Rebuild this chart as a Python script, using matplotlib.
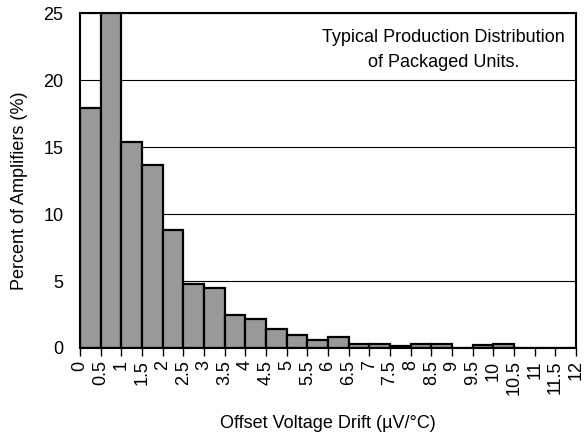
import numpy as np
import matplotlib.pyplot as plt

plt.rcParams["font.family"] = ["Liberation Sans", "DejaVu Sans"]

# histogram bins (left edges, width 0.5) and percent of amplifiers
bin_left = [0, 0.5, 1, 1.5, 2, 2.5, 3, 3.5, 4, 4.5, 5, 5.5, 6, 6.5, 7, 7.5, 8, 8.5, 9, 9.5, 10, 10.5, 11, 11.5]
percent = [17.9, 25.0, 15.35, 13.65, 8.8, 4.8, 4.5, 2.45, 2.15, 1.45, 1.0, 0.57, 0.8, 0.32, 0.32, 0.18, 0.32, 0.27, 0.0, 0.25, 0.32, 0.0, 0.0, 0.0]
tick_vals = np.arange(0, 12.5, 0.5)
tick_labels = ["0", "0.5", "1", "1.5", "2", "2.5", "3", "3.5", "4", "4.5", "5", "5.5", "6",
               "6.5", "7", "7.5", "8", "8.5", "9", "9.5", "10", "10.5", "11", "11.5", "12"]

FS = 13

fig = plt.figure(figsize=(5.86, 4.38), dpi=100)
ax = fig.add_axes([0.1365, 0.2055, 0.8465, 0.7645])

ax.set_axisbelow(True)
ax.grid(axis="y", color="black", linewidth=0.8)
ax.bar(bin_left, percent, width=0.5, align="edge", color="#999999",
       edgecolor="black", linewidth=1.6)

ax.set_xlim(0, 12)
ax.set_ylim(0, 25)
ax.set_xticks(tick_vals)
ax.set_xticklabels(tick_labels, rotation=90, fontsize=FS)
ax.set_yticks([0, 5, 10, 15, 20, 25])
ax.tick_params(axis="y", length=0, pad=12, labelsize=FS)
ax.tick_params(axis="x", length=6, width=1, pad=3, direction="out")
for s in ax.spines.values():
    s.set_linewidth(1.5)

ax.set_xlabel("Offset Voltage Drift (\u00b5V/\u00b0C)", fontsize=FS, labelpad=14)
ax.set_ylabel("Percent of Amplifiers (%)", fontsize=FS)
ax.yaxis.set_label_coords(-0.104, 0.47)

ax.text(8.8, 23.15, "Typical Production Distribution", ha="center", va="center", fontsize=FS)
ax.text(8.8, 21.3, "of Packaged Units.", ha="center", va="center", fontsize=FS)

fig.savefig("out.png", dpi=100)
